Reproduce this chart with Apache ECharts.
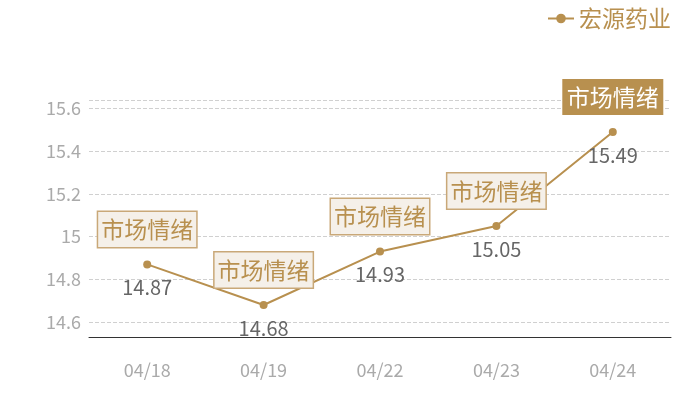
<!DOCTYPE html>
<html>
<head>
<meta charset="utf-8">
<script src="https://cdn.jsdelivr.net/npm/echarts@6/dist/echarts.min.js"></script>
<style>html,body{margin:0;padding:0;background:#fff}#c{width:700px;height:400px}</style>
</head>
<body>
<div id="c"></div>
<script>
var categories = ['04/18', '04/19', '04/22', '04/23', '04/24'];
var prices = [14.87, 14.68, 14.93, 15.05, 15.49];
var seriesName = '宏源药业';
var tagText = '市场情绪';

var gold = '#b8904f';
var font = 'Noto Sans CJK SC';

var markData = categories.map(function (c, i) {
  var item = { coord: [c, prices[i]] };
  if (i === categories.length - 1) {
    item.label = {
      backgroundColor: gold,
      borderColor: gold,
      color: '#ffffff',
      padding: [2, 3, 1, 3]
    };
  }
  return item;
});

var chart = echarts.init(document.getElementById('c'));
chart.setOption({
  animation: false,
  textStyle: { fontFamily: font },
  legend: {
    data: [seriesName],
    right: 24,
    top: 2,
    itemWidth: 26,
    itemHeight: 12,
    itemGap: 6,
    textStyle: { color: gold, fontSize: 23, fontFamily: font }
  },
  grid: { left: 89, right: 29, top: 100, bottom: 63 },
  xAxis: {
    type: 'category',
    data: categories,
    boundaryGap: true,
    axisLine: { lineStyle: { color: '#333', width: 1 } },
    axisTick: { show: false },
    axisLabel: { color: '#aaaaaa', fontSize: 18, margin: 24, fontFamily: font }
  },
  yAxis: {
    type: 'value',
    min: 14.53,
    max: 15.64,
    axisLine: { show: false },
    axisTick: { show: false },
    axisLabel: {
      color: '#aaaaaa', fontSize: 18, margin: 8, fontFamily: font,
      showMinLabel: false, showMaxLabel: false
    },
    splitLine: { lineStyle: { color: '#d0d0d0', type: 'dashed' } }
  },
  series: [{
    name: seriesName,
    type: 'line',
    data: prices,
    symbol: 'circle',
    symbolSize: 8,
    itemStyle: { color: gold },
    lineStyle: { color: gold, width: 2 },
    label: {
      show: true,
      position: 'bottom',
      distance: 9,
      color: '#666666',
      fontSize: 20,
      fontFamily: font
    },
    markPoint: {
      symbol: 'circle',
      symbolSize: 1,
      itemStyle: { color: 'rgba(0,0,0,0)' },
      label: {
        show: true,
        position: 'inside',
        offset: [0, -35],
        formatter: tagText,
        color: gold,
        fontSize: 23,
        fontFamily: font,
        backgroundColor: '#f5f0e9',
        borderColor: '#c9a878',
        borderWidth: 1.5,
        padding: [3, 3, 2, 3],
        lineHeight: 30
      },
      data: markData
    }
  }]
});
</script>
</body>
</html>
